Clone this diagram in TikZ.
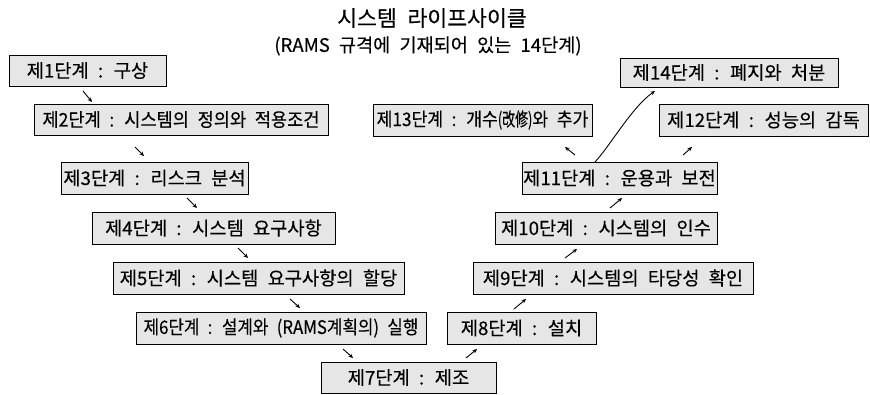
\documentclass[tikz,border=0pt]{standalone}
\usepackage{fontspec}
\setmainfont{Noto Sans CJK KR}[WordSpace=2.2,FakeBold=0.25]
\usetikzlibrary{arrows.meta,shadows}
\definecolor{boxfill}{RGB}{230,230,230}
\tikzset{
  stagebox/.style={draw=black, line width=0.8pt, fill=boxfill, inner sep=0pt,
    drop shadow={shadow xshift=1.1pt, shadow yshift=-1.1pt, fill=black, opacity=1},
    font=\fontsize{18.7}{22}\selectfont},
  smallarrow/.style={line width=0.9pt, -{Stealth[length=4.5pt,width=4pt]}},
}
\begin{document}
\begin{tikzpicture}[x=1pt,y=-1pt]
\useasboundingbox (0,0) rectangle (870,394);
\node[font=\fontsize{21.6}{26}\selectfont] (title) at (432,18) {시스템 라이프사이클};
\node[font=\fontsize{18.6}{22}\selectfont] (subtitle) at (428,46) {(RAMS 규격에 기재되어 있는 14단계)};

\node[stagebox, minimum width=157, minimum height=31] (b1) at (87.5,70.5) {제1단계 : 구상};
\node[stagebox, minimum width=294, minimum height=31] (b2) at (181,119.5) {\scalebox{0.94}[1]{제2단계 : 시스템의 정의와 적용조건}};
\node[stagebox, minimum width=187, minimum height=32] (b3) at (154.5,178) {제3단계 : 리스크 분석};
\node[stagebox, minimum width=243, minimum height=32] (b4) at (213.5,228) {제4단계 : 시스템 요구사항};
\node[stagebox, minimum width=291, minimum height=32] (b5) at (258.5,278) {제5단계 : 시스템 요구사항의 할당};
\node[stagebox, minimum width=290, minimum height=32] (b6) at (281,328) {\scalebox{0.9}[1]{제6단계 : 설계와 (RAMS계획의) 실행}};
\node[stagebox, minimum width=175, minimum height=31] (b7) at (408.5,377.5) {제7단계 : 제조};
\node[stagebox, minimum width=149, minimum height=32] (b8) at (521.5,328) {제8단계 : 설치};
\node[stagebox, minimum width=280, minimum height=32] (b9) at (613,278) {제9단계 : 시스템의 타당성 확인};
\node[stagebox, minimum width=222, minimum height=32] (b10) at (606,228) {제10단계 : 시스템의 인수};
\node[stagebox, minimum width=195, minimum height=32] (b11) at (619.5,178) {제11단계 : 운용과 보전};
\node[stagebox, minimum width=209, minimum height=32] (b12) at (763.5,120) {제12단계 : 성능의 감독};
\node[stagebox, minimum width=219, minimum height=32] (b13) at (482.5,120) {\scalebox{0.92}[1]{제13단계 : 개수\scalebox{0.75}[1]{(改修)}와 추가}};
\node[stagebox, minimum width=218, minimum height=29] (b14) at (729,72.5) {제14단계 : 폐지와 처분};

\coordinate (a1s) at (83,91);   \coordinate (a1e) at (92,102);
\coordinate (a2s) at (135,147); \coordinate (a2e) at (144,156);
\coordinate (a3s) at (187,198); \coordinate (a3e) at (197,208);
\coordinate (a4s) at (238,248); \coordinate (a4e) at (248,258);
\coordinate (a5s) at (290,299); \coordinate (a5e) at (300,308);
\coordinate (a6s) at (343,349); \coordinate (a6e) at (353,358);
\coordinate (a7s) at (466,358); \coordinate (a7e) at (477,349);
\coordinate (a8s) at (514,309); \coordinate (a8e) at (526,299);
\coordinate (a9s) at (565,258); \coordinate (a9e) at (577,249);
\coordinate (a10s) at (610,208); \coordinate (a10e) at (622,198);
\coordinate (a13s) at (575,155); \coordinate (a13e) at (565,147);
\coordinate (a12s) at (683,155); \coordinate (a12e) at (692,147);
\coordinate (a14s) at (595,162); \coordinate (a14e) at (655,91);

\draw[smallarrow] (a1s) -- (a1e);
\draw[smallarrow] (a2s) -- (a2e);
\draw[smallarrow] (a3s) -- (a3e);
\draw[smallarrow] (a4s) -- (a4e);
\draw[smallarrow] (a5s) -- (a5e);
\draw[smallarrow] (a6s) -- (a6e);
\draw[smallarrow] (a7s) -- (a7e);
\draw[smallarrow] (a8s) -- (a8e);
\draw[smallarrow] (a9s) -- (a9e);
\draw[smallarrow] (a10s) -- (a10e);
\draw[smallarrow] (a13s) -- (a13e);
\draw[smallarrow] (a12s) -- (a12e);
\draw[smallarrow] (a14s) .. controls (610,146) and (632,107) .. (a14e);
\end{tikzpicture}
\end{document}
